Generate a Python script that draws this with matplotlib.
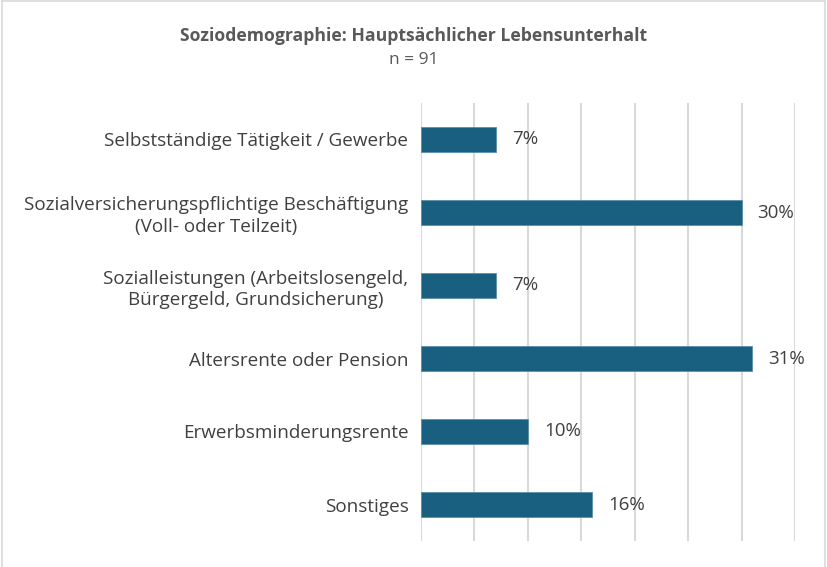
import numpy as np
import matplotlib
matplotlib.use('Agg')
import matplotlib.pyplot as plt
from matplotlib.lines import Line2D

# data (top to bottom)
categories = ['Selbstständige Tätigkeit / Gewerbe',
              'Sozialversicherungspflichtige Beschäftigung\n(Voll- oder Teilzeit)',
              'Sozialleistungen (Arbeitslosengeld,\nBürgergeld, Grundsicherung)',
              'Altersrente oder Pension',
              'Erwerbsminderungsrente',
              'Sonstiges']
values = [7, 30, 7, 31, 10, 16]
value_labels = ['7%', '30%', '7%', '31%', '10%', '16%']

plt.rcParams['font.family'] = ['Open Sans', 'DejaVu Sans']

fig = plt.figure(figsize=(8.27, 5.67), dpi=100)
ax = fig.add_axes([421/827, 1-541/567, (795-421)/827, (541-103)/567])

y = np.arange(len(categories))
ax.barh(y, values, height=0.35, color='#195F7F', edgecolor='#5B8FAA', linewidth=0.6, zorder=3)

for yi, v, lab in zip(y, values, value_labels):
    ax.text(v + 1.5, yi, lab, va='center', ha='left', fontsize=13.5, color='#404040')

ax.set_xlim(0, 35)
ax.set_ylim(len(categories) - 0.5, -0.5)
ax.set_xticks(np.arange(0, 36, 5))
ax.set_xticklabels([])
ax.set_yticks(y)
ax.set_yticklabels(categories, fontsize=13.6, color='#404040', ha='right',
                   multialignment='center', linespacing=1.25)
ax.tick_params(axis='both', length=0)
ax.tick_params(axis='y', pad=9)
ax.grid(axis='x', color='#D9D9D9', linewidth=1.5, zorder=0)
for s in ax.spines.values():
    s.set_visible(False)

fig.text(0.5, 1-36/567, 'Soziodemographie: Hauptsächlicher Lebensunterhalt', ha='center', va='center',
         fontsize=12.7, fontweight='bold', color='#595959')
fig.text(0.5, 1-60/567, 'n = 91', ha='center', va='center', fontsize=12.5, color='#595959')

# outer chart frame
fig.add_artist(Line2D([2/827, 2/827], [0, 1], transform=fig.transFigure, color='#D9D9D9', linewidth=1.2))
fig.add_artist(Line2D([825/827, 825/827], [0, 1], transform=fig.transFigure, color='#D9D9D9', linewidth=1.2))
fig.add_artist(Line2D([2/827, 825/827], [1-0.5/567, 1-0.5/567], transform=fig.transFigure, color='#D9D9D9', linewidth=1.2))

fig.savefig('out.png', dpi=100)
